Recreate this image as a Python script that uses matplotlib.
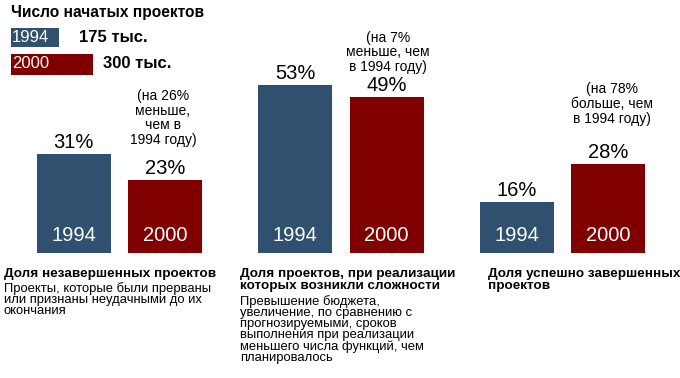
import matplotlib
matplotlib.use("Agg")
import matplotlib.pyplot as plt

plt.rcParams['font.family'] = ['Liberation Sans', 'DejaVu Sans']

# data
years = ["1994", "2000"]
started = [175, 300]              # тыс. проектов
started_labels = ["175 тыс.", "300 тыс."]
share_failed = [31, 23]           # Доля незавершенных проектов
share_challenged = [53, 49]       # Доля проектов с трудностями
share_success = [16, 28]          # Доля успешно завершенных
notes = ["(на 26%\nменьше,\nчем в\n1994 году)",
         "(на 7%\nменьше, чем\nв 1994 году)",
         "(на 78%\nбольше, чем\nв 1994 году)"]
titles = ["Доля незавершенных проектов",
          "Доля проектов, при реализации\nкоторых возникли сложности",
          "Доля успешно завершенных\nпроектов"]
descriptions = ["Проекты, которые были прерваны\nили признаны неудачными до их\nокончания",
                "Превышение бюджета,\nувеличение, по сравнению с\nпрогнозируемыми, сроков\nвыполнения при реализации\nменьшего числа функций, чем\nпланировалось",
                ""]

colors = ["#30506f", "#800000"]
W, H = 680, 378

fig = plt.figure(figsize=(6.8, 3.78), dpi=100)

def fx(x):
    return x / W

def fy(y):
    return 1 - y / H

# main bars: axes over the whole figure, x in pixels, y in percent
ax = fig.add_axes([0, 0, 1, 1])
base_px = 252.7
scale = 3.17  # px per percent
ax.set_xlim(0, W)
ax.set_ylim(-(H - base_px) / scale, base_px / scale)
ax.axis('off')

groups = [share_failed, share_challenged, share_success]
centers = [(73.5, 165), (295, 386.5), (517, 608)]
bar_w = 74

for g, vals in enumerate(groups):
    for i, v in enumerate(vals):
        cx = centers[g][i]
        ax.bar(cx, v, width=bar_w, color=colors[i])
        ax.annotate(f"{v}%", (cx, v), xytext=(0, 1.5), textcoords='offset points',
                    ha='center', va='bottom', fontsize=14.5)
        ax.annotate(years[i], (cx, 0), xytext=(0, 12.5), textcoords='offset points',
                    ha='center', va='center', fontsize=14.5, color='white')

# notes above 2000 bars
note_pos = [(163, 118), (388, 52.5), (612, 104)]
for (x, y), t in zip(note_pos, notes):
    fig.text(fx(x), fy(y), t, ha='center', va='center', fontsize=10, linespacing=1.05)

# bottom captions
cap_x = [4, 240, 488]
for x, t, d in zip(cap_x, titles, descriptions):
    fig.text(fx(x), fy(268.5), t, ha='left', va='top', fontsize=9.7, fontweight='bold',
             linespacing=0.98)
    if d:
        nlines = t.count("\n") + 1
        fig.text(fx(x), fy(268.5 + 13.3 * nlines), d, ha='left', va='top', fontsize=9.4,
                 linespacing=0.9)

# legend: number of started projects as horizontal bars
fig.text(fx(11), fy(12), "Число начатых проектов", ha='left', va='center',
         fontsize=11.2, fontweight='bold')
lax = fig.add_axes([fx(11), fy(80), fx(100), 60 / H])
lax.set_xlim(0, 100 / 0.2737)
lax.set_ylim(80, 20)
lax.axis('off')
leg_y = [37.5, 64]
leg_h = [19, 21]
lab_x = [79, 103]
for i in range(2):
    lax.barh(leg_y[i], started[i], height=leg_h[i], left=0, color=colors[i])
    fig.text(fx(12), fy(leg_y[i]), years[i], ha='left', va='center',
             fontsize=12, color='white')
    fig.text(fx(lab_x[i]), fy(leg_y[i]), started_labels[i], ha='left', va='center',
             fontsize=12, fontweight='bold')

fig.savefig("out.png", dpi=100)
